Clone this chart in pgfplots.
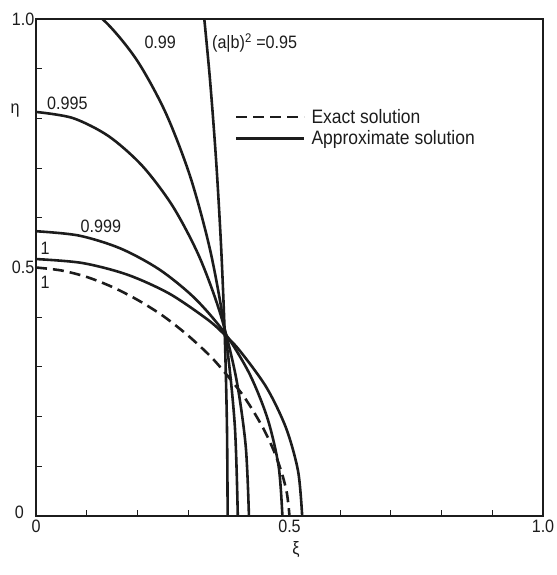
\documentclass[border=0pt]{standalone}
\usepackage{fontspec}
\setmainfont[FakeStretch=0.9]{Liberation Sans}
\usepackage{pgfplots}
\pgfplotsset{compat=1.18}
\definecolor{ink}{HTML}{1C1C1C}

\begin{document}
\begin{tikzpicture}
\begin{axis}[
  name=ax,
  scale only axis,
  width=507bp, height=497bp,
  xmin=0, xmax=1, ymin=0, ymax=1,
  clip mode=individual,
  axis line style={ink, line width=1.2pt},
  xtick={0,0.1,0.2,0.3,0.4,0.5,0.6,0.7,0.8,0.9,1},
  ytick={0,0.1,0.2,0.3,0.4,0.5,0.6,0.7,0.8,0.9,1},
  xticklabels={0,,,,,0.5,,,,,1.0},
  yticklabels={,,,,,0.5,,,,,1.0},
  xtick pos=left, ytick pos=left,
  tick align=inside,
  major tick length=6bp,
  tick style={ink, line width=0.9pt},
  ticklabel style={font=\fontsize{18}{20}\selectfont, text=ink},
  yticklabel style={inner sep=1.5pt},
  xticklabel style={inner sep=2pt, yshift=-2bp},
  legend style={at={(axis cs:0.392,0.781)}, anchor=west, draw=none, fill=none,
    inner sep=0pt, row sep=2bp,
    font=\fontsize{19.5}{21}\selectfont, text=ink,
    cells={anchor=west}},
  legend image code/.code={\draw[#1] (0bp,0bp) -- (68bp,0bp);},
  curve/.style={ink, line width=2.6pt, smooth, mark=none},
]

% exact solution
\addplot[curve, dash pattern=on 11bp off 6bp] coordinates {
  (0,0.5) (0.05,0.494) (0.1,0.481) (0.15,0.461) (0.2,0.435) (0.25,0.403)
  (0.3,0.363) (0.35,0.315) (0.4,0.254) (0.425,0.217) (0.45,0.173)
  (0.47,0.129) (0.485,0.086) (0.495,0.045) (0.5,0)
};
\addlegendentry{\hspace{4bp}Exact solution}

% approximate solutions, (a|b)^2 = 0.95, 0.99, 0.995, 0.999, 1
\addplot[curve] coordinates {
  (0.378,0) (0.3766,0.1826) (0.3723,0.3635) (0.3651,0.5419)
  (0.3552,0.7162) (0.3426,0.8849) (0.3274,1.047)
};
\addlegendentry{\hspace{4bp}Approximate solution}

\addplot[curve, forget plot] coordinates {
  (0,1.059) (0.0691,1.0429) (0.1361,0.9951) (0.199,0.9171) (0.2558,0.8112)
  (0.3049,0.6807) (0.3447,0.5295) (0.3740,0.3622) (0.3920,0.1838) (0.398,0)
};
\addplot[curve, forget plot] coordinates {
  (0,0.813) (0.0729,0.8006) (0.1436,0.7640) (0.21,0.7041) (0.2700,0.6228)
  (0.3217,0.5226) (0.3637,0.4065) (0.3947,0.2780) (0.4136,0.1411) (0.42,0)
};
\addplot[curve, forget plot] coordinates {
  (0,0.573) (0.0844,0.5643) (0.1662,0.5385) (0.2430,0.4962) (0.3124,0.4389)
  (0.3723,0.3683) (0.4209,0.2865) (0.4567,0.1960) (0.4786,0.0995) (0.486,0)
};
\addplot[curve, forget plot] coordinates {
  (0,0.517) (0.0911,0.5091) (0.1796,0.4858) (0.2625,0.4477) (0.3375,0.3960)
  (0.3712,0.3656) (0.4022,0.3323) (0.4547,0.2585) (0.4933,0.1768)
  (0.5170,0.0898) (0.525,0)
};

\begin{scope}[every node/.style={font=\fontsize{18}{20}\selectfont, text=ink, inner sep=0pt}]
\node at (axis cs:0.245,0.954) {0.99};
\node[anchor=west] at (axis cs:0.347,0.952) {(a|b)\textsuperscript{2} =0.95};
\node at (axis cs:0.062,0.831) {0.995};
\node at (axis cs:0.128,0.583) {0.999};
\node at (axis cs:0.018,0.539) {1};
\node at (axis cs:0.018,0.471) {1};
\node at (axis cs:-0.041,0.815) {η};
\node at (axis cs:0.513,-0.068) {ξ};
% origin label of the vertical axis, set a little above the corner
\node at (axis cs:-0.033,0.008) {0};
\end{scope}
\end{axis}
\path ([xshift=-36bp,yshift=-59bp]ax.south west) rectangle ([xshift=10bp,yshift=19bp]ax.north east);
\end{tikzpicture}
\end{document}
